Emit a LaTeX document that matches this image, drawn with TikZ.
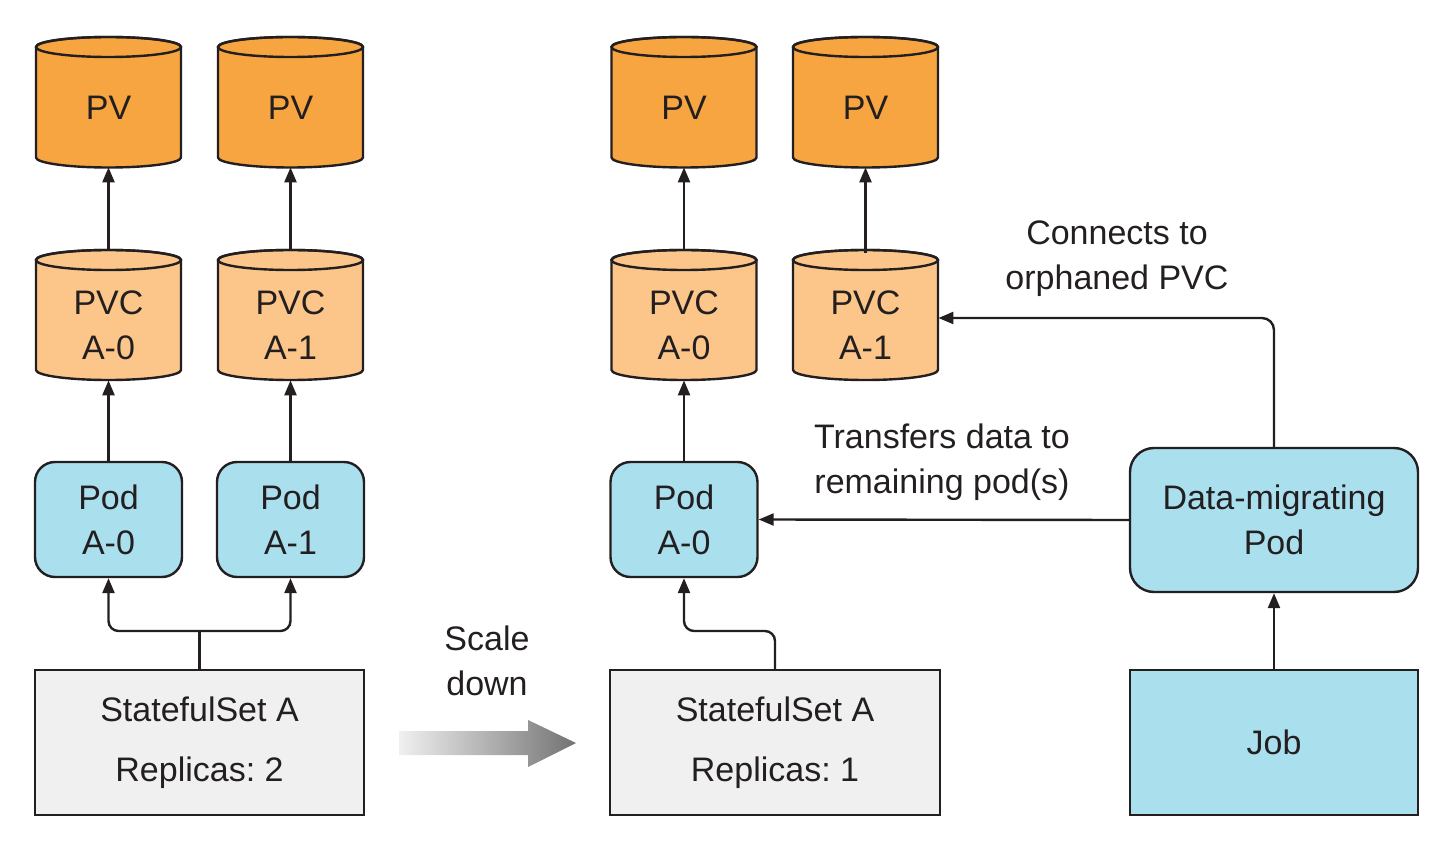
\documentclass[tikz,border=0pt]{standalone}
\usepackage{fontspec}
\setmainfont{Liberation Sans}
\usetikzlibrary{arrows.meta}
\frenchspacing
\definecolor{linec}{HTML}{231F20}
\definecolor{pvc}{HTML}{F7A541}
\definecolor{pvcc}{HTML}{FCC68A}
\definecolor{podc}{HTML}{AADFEE}
\definecolor{ssc}{HTML}{F0F0F0}
\newcommand\cylbody[4]{%
  \filldraw[fill=#4, draw=linec, line width=1.2pt]
    (#1-72.5,#2) -- (#1-72.5,#3)
    arc[start angle=180,end angle=360,x radius=36.25pt,y radius=5pt]
    -- (#1+72.5,#2)
    arc[start angle=0,end angle=180,x radius=36.25pt,y radius=5pt] -- cycle;
  \draw[linec, line width=1.2pt] (#1,#2) ellipse[x radius=36.25pt,y radius=5pt];
}
\begin{document}
\frenchspacing
\begin{tikzpicture}[x=0.5pt,y=-0.5pt,
  lbl/.style={font=\fontsize{17}{22.5}\selectfont\frenchspacing, align=center, inner sep=0pt, text=linec},
  cylnode/.style={inner sep=0pt, minimum width=72.5pt, minimum height=65pt},
  podbox/.style={draw=linec, fill=podc, line width=1.2pt, rounded corners=10pt,
     minimum width=73.5pt, minimum height=57.5pt, inner sep=0pt, lbl},
  ssbox/.style={draw=linec, fill=ssc, line width=1.2pt, minimum width=164.5pt,
     minimum height=72.5pt, inner sep=0pt, lbl},
  conn/.style={draw=linec, line width=1.2pt, -{Triangle[length=7.5pt,width=6pt]}},
  conn2/.style={draw=linec, line width=1.2pt, {Triangle[length=7.5pt,width=6pt]}-{Triangle[length=7.5pt,width=6pt]}}
]
\useasboundingbox (0,0) rectangle (1442,845);

% cylinders
\cylbody{108.5}{47}{157.5}{pvc}
\cylbody{290.5}{47}{157.5}{pvc}
\cylbody{684}{47}{157.5}{pvc}
\cylbody{865.5}{47}{157.5}{pvc}
\cylbody{108.5}{260}{370}{pvcc}
\cylbody{290.5}{260}{370}{pvcc}
\cylbody{684}{260}{370}{pvcc}
\cylbody{865.5}{260}{370}{pvcc}

\node[cylnode] (pv1) at (108.5,102) {};
\node[cylnode] (pv2) at (290.5,102) {};
\node[cylnode] (pv3) at (684,102) {};
\node[cylnode] (pv4) at (865.5,102) {};
\node[cylnode] (pvc1) at (108.5,315) {};
\node[cylnode] (pvc2) at (290.5,315) {};
\node[cylnode] (pvc3) at (684,315) {};
\node[cylnode] (pvc4) at (865.5,318) {};

\node[lbl] (pv1t) at (108.5,108) {PV};
\node[lbl] (pv2t) at (290.5,108) {PV};
\node[lbl] (pv3t) at (684,108) {PV};
\node[lbl] (pv4t) at (865.5,108) {PV};
\node[lbl] (pvc1t) at (108.5,325) {PVC\\A-0};
\node[lbl] (pvc2t) at (290.5,325) {PVC\\A-1};
\node[lbl] (pvc3t) at (684,325) {PVC\\A-0};
\node[lbl] (pvc4t) at (865.5,325) {PVC\\A-1};

% pods
\node[podbox] (pod1) at (108.5,519.5) {Pod\\A-0};
\node[podbox] (pod2) at (290.5,519.5) {Pod\\A-1};
\node[podbox] (pod3) at (684,519.5) {Pod\\A-0};
\node[podbox, minimum width=144pt, minimum height=72pt, rounded corners=12pt] (dmp) at (1274,520) {Data-migrating\\Pod};

% boxes
\node[ssbox] (ss1) at (199.5,742.5) {StatefulSet A\\[7.5pt]Replicas: 2};
\node[ssbox, minimum width=165pt] (ss2) at (775,742.5) {StatefulSet A\\[7.5pt]Replicas: 1};
\node[draw=linec, fill=podc, line width=1.2pt, minimum width=144pt, minimum height=72.5pt, inner sep=0pt, lbl] (job) at (1274,742.5) {Job};

% labels
\node[lbl] (scale) at (487,661) {Scale\\down};
\node[lbl] (conlbl) at (1117,259) {Connects to\\orphaned PVC};
\node[lbl] (trlbl) at (942,462) {Transfers data to\\remaining pod(s)};

% connectors
\foreach \a/\b in {pvc1/pv1,pvc2/pv2,pvc3/pv3,pvc4/pv4,pod1/pvc1,pod2/pvc2,pod3/pvc3}
  \draw[conn] (\a.north) -- (\b.south);

\draw[line width=1.2pt, draw=linec] (ss1.north) -- (ss1.north |- 0,631);
\draw[conn2, rounded corners=5pt] (pod1.south) |- (ss1.north |- 0,631) -| (pod2.south);
\draw[conn, rounded corners=5pt] (ss2.north) -- (ss2.north |- 0,631) -| (pod3.south);

\draw[conn, rounded corners=6pt] (dmp.north) |- (pvc4.east);
\draw[conn] (dmp.west) -- (pod3.east);
\draw[conn] (job.north) -- (dmp.south);

% scale-down arrow
\shade[left color=gray!12, right color=gray!90!black]
  (399,731) -- (528,731) -- (528,720) -- (576,743) -- (528,767) -- (528,755) -- (399,755) -- cycle;
\end{tikzpicture}
\end{document}
